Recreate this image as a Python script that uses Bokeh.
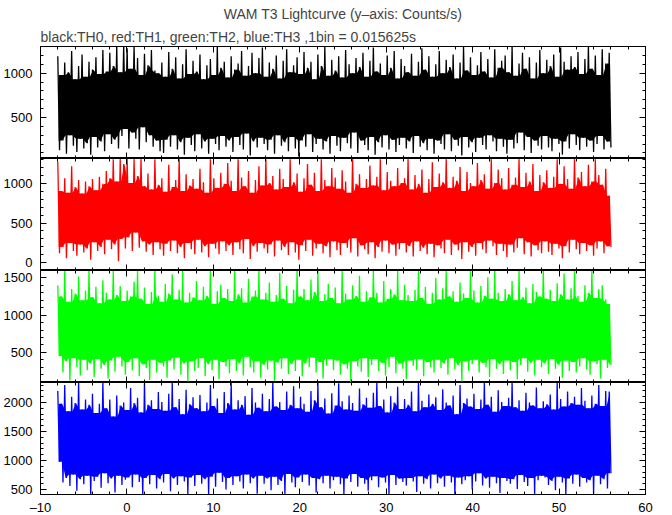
import numpy as np
from bokeh.plotting import figure
from bokeh.layouts import column
from bokeh.models import (Range1d, SingleIntervalTicker, LinearAxis, Title,
                          CustomJSTickFormatter, CustomLabelingPolicy)
from bokeh.embed import file_html
from bokeh.resources import INLINE

# ---------------- data ----------------
T_START = -8.0   # s, first bin
T_END = 56.0     # s, last bin
TITLE = "WAM T3 Lightcurve (y\u2013axis: Counts/s)"
SUBTITLE = "black:TH0, red:TH1, green:TH2, blue:TH3 ,1bin = 0.015625s"

th0_hi = [1190, 980, 1120, 1010, 1250, 930, 1080, 1210, 960, 1130,
          1040, 1180, 990, 1260, 1020, 1230, 1080, 1300, 1010, 1310,
          1280, 1050, 1300, 1170, 980, 1220, 1090, 1260, 1030, 1000,
          1120, 960, 1240, 1050, 1180, 940, 1100, 1270, 990, 1140,
          1020, 1210, 930, 1090, 1160, 980, 1300, 1060, 1130, 950,
          1190, 1040, 1110, 1250, 970, 1080, 1230, 1000, 1170, 1290,
          960, 1120, 1050, 1200, 940, 1140, 1270, 1010, 1090, 1180,
          990, 1240, 1060, 1130, 930, 1210, 1080, 1300, 970, 1150,
          1030, 1190, 950, 1260, 1100, 1000, 1170, 1070, 1230, 960,
          1140, 1290, 1020, 1110, 980, 1200, 1060, 1250, 940, 1160,
          1080, 1010, 1220, 970, 1130, 1280, 1040, 1190, 960, 1100,
          1250, 1000, 1150, 1070, 1210, 940, 1120, 1300, 1030, 1180,
          980, 1090, 1240, 1020, 1160, 950, 1270, 1060, 1140, 1200,
          1010, 1300, 970, 1110, 1230, 1050, 1180, 940, 1120, 1260,
          1000, 1150, 1080, 1210, 960, 1290, 1130, 1040, 1190, 1070,
          1240, 990, 1160, 1300, 1050, 1200, 980, 1270, 1110, 1230]
th0_lo = [130, 240, 90, 300, 180, 110, 260, 150, 210, 80,
          280, 160, 230, 120, 310, 200, 250, 150, 290, 370,
          150, 330, 260, 140, 390, 220, 300, 170, 240, 120,
          100, 250, 170, 300, 140, 220, 80, 270, 190, 120,
          310, 150, 230, 90, 260, 200, 130, 290, 170, 240,
          110, 280, 190, 140, 320, 70, 230, 160, 270, 200,
          130, 250, 90, 300, 180, 220, 120, 280, 150, 60,
          240, 170, 310, 110, 200, 260, 140, 230, 90, 290,
          180, 120, 270, 210, 150, 330, 100, 240, 190, 130,
          280, 80, 220, 160, 300, 140, 250, 110, 190, 270,
          150, 230, 100, 290, 170, 210, 130, 260, 90, 240,
          200, 140, 310, 120, 250, 180, 70, 280, 160, 220,
          110, 270, 190, 140, 300, 230, 120, 260, 170, 90,
          250, 150, 210, 330, 130, 280, 100, 240, 180, 140,
          290, 160, 120, 260, 200, 80, 230, 150, 310, 190,
          130, 270, 170, 240, 110, 200, 290, 140, 230, 160]

th1_hi = [1270, 900, 1060, 880, 1210, 950, 1040, 870, 1020, 960,
          1050, 910, 1080, 990, 1150, 1060, 1300, 1020, 1300, 1240,
          1300, 1000, 1300, 1090, 1300, 960, 1120, 920, 1300, 980,
          1060, 890, 1230, 950, 1040, 1300, 900, 1110, 970, 1050,
          930, 1180, 1010, 880, 1300, 1060, 940, 1130, 990, 1250,
          1030, 900, 1300, 1070, 960, 1150, 880, 1040, 1210, 970,
          1300, 1000, 1090, 920, 1180, 1050, 950, 1300, 1010, 1120,
          890, 1060, 1240, 980, 1130, 900, 1300, 1040, 960, 1190,
          1070, 930, 1160, 1020, 880, 1300, 990, 1110, 940, 1050,
          1220, 970, 1080, 1300, 910, 1140, 1030, 960, 1190, 1000,
          1060, 1300, 920, 1100, 990, 1170, 880, 1050, 1260, 950,
          1120, 1010, 1300, 940, 1080, 1030, 1200, 900, 1140, 1000,
          960, 1250, 1040, 1110, 930, 1300, 1000, 1170, 1060, 920,
          1190, 980, 1070, 1300, 950, 1130, 1020, 1240, 900, 1100,
          1010, 1160, 940, 1080, 1300, 990, 1210, 1050, 930, 1300,
          1070, 1140, 960, 1230, 1020, 1300, 1100, 980, 1180, 840]
th1_lo = [120, 200, 60, 250, 150, 90, 230, 130, 180, 40,
          260, 150, 200, 110, 290, 170, 230, 20, 300, 180,
          320, 150, 380, 190, 270, 140, 230, 100, 260, 170,
          90, 240, 150, 280, 120, 200, 60, 250, 170, 110,
          290, 130, 210, 70, 240, 180, 110, 270, 150, 220,
          100, 260, 170, 120, 300, 50, 210, 140, 250, 180,
          120, 230, 80, 280, 160, 200, 100, 260, 130, 40,
          220, 150, 290, 90, 180, 240, 120, 210, 70, 270,
          160, 100, 250, 190, 130, 310, 80, 220, 170, 110,
          260, 60, 200, 140, 280, 120, 230, 90, 170, 250,
          130, 210, 80, 270, 150, 190, 110, 240, 70, 220,
          180, 120, 290, 100, 230, 160, 50, 260, 140, 200,
          90, 250, 170, 120, 280, 210, 100, 240, 150, 70,
          230, 130, 190, 310, 110, 260, 80, 220, 160, 120,
          270, 140, 100, 240, 180, 60, 210, 130, 290, 170,
          110, 250, 150, 220, 90, 180, 270, 120, 210, 200]

th2_hi = [1400, 1250, 1600, 1180, 1350, 1290, 1520, 1200, 1330, 1600,
          1240, 1380, 1160, 1470, 1300, 1210, 1600, 1270, 1390, 1190,
          1330, 1250, 1450, 1600, 1220, 1370, 1150, 1310, 1600, 1260,
          1180, 1420, 1290, 1550, 1210, 1340, 1600, 1170, 1300, 1240,
          1460, 1200, 1380, 1260, 1600, 1150, 1320, 1410, 1230, 1350,
          1190, 1600, 1280, 1360, 1170, 1490, 1250, 1330, 1600, 1210,
          1300, 1440, 1180, 1270, 1570, 1220, 1390, 1160, 1340, 1600,
          1250, 1350, 1200, 1480, 1310, 1600, 1190, 1280, 1420, 1230,
          1370, 1160, 1600, 1290, 1210, 1400, 1260, 1530, 1180, 1320,
          1240, 1600, 1300, 1170, 1460, 1220, 1350, 1280, 1600, 1200,
          1410, 1270, 1190, 1340, 1600, 1230, 1380, 1150, 1300, 1500,
          1210, 1360, 1600, 1250, 1320, 1180, 1440, 1290, 1230, 1600,
          1330, 1170, 1390, 1260, 1510, 1220, 1600, 1300, 1190, 1350,
          1280, 1460, 1200, 1600, 1240, 1370, 1160, 1420, 1310, 1250,
          1600, 1220, 1340, 1190, 1430, 1280, 1560, 1210, 1360, 1600,
          1260, 1180, 1400, 1300, 1600, 1230, 1350, 1400, 1210, 1150]
th2_lo = [450, 230, 380, 120, 420, 300, 190, 400, 260, 350,
          170, 410, 280, 330, 150, 390, 240, 440, 310, 200,
          370, 260, 420, 180, 340, 290, 130, 400, 230, 360,
          310, 160, 390, 270, 430, 200, 350, 110, 380, 250,
          290, 420, 180, 340, 260, 400, 140, 370, 310, 220,
          410, 250, 350, 190, 440, 300, 230, 380, 160, 330,
          270, 390, 120, 360, 280, 420, 210, 340, 250, 400,
          180, 350, 300, 430, 230, 370, 150, 320, 410, 260,
          390, 200, 340, 280, 100, 380, 310, 240, 420, 170,
          330, 410, 250, 360, 190, 300, 440, 220, 350, 280,
          140, 390, 320, 260, 410, 180, 370, 300, 230, 400,
          290, 350, 200, 420, 270, 330, 110, 380, 250, 340,
          400, 230, 360, 300, 170, 410, 280, 340, 210, 390,
          260, 370, 140, 330, 420, 240, 360, 190, 400, 300,
          350, 210, 410, 280, 330, 160, 390, 250, 370, 230,
          310, 420, 270, 200, 380, 340, 150, 400, 290, 330]

th3_hi = [2200, 1980, 2300, 1850, 2100, 1990, 2350, 1880, 2050, 1960,
          2150, 1820, 1980, 2350, 1900, 2050, 1760, 2120, 1950, 2000,
          1870, 2250, 1990, 2080, 1830, 2350, 1960, 2040, 1890, 2180,
          2010, 1860, 2150, 2350, 1920, 2060, 1800, 2220, 1970, 2090,
          1900, 2130, 1850, 2000, 2300, 1940, 2070, 1820, 2180, 1990,
          2350, 1880, 2040, 1960, 2110, 1790, 2250, 2000, 1910, 2150,
          1850, 2060, 2350, 1930, 2010, 1870, 2190, 1960, 2280, 1900,
          2100, 1980, 1840, 2200, 2040, 2350, 1920, 2070, 1810, 2160,
          1950, 2330, 2020, 1880, 2120, 1990, 1860, 2240, 1970, 2080,
          1910, 2170, 2350, 1940, 2050, 1830, 2110, 2000, 2270, 1890,
          2060, 1960, 2190, 1850, 2350, 2030, 1920, 2140, 1980, 2090,
          1870, 2230, 2000, 1950, 2120, 1800, 2300, 1990, 2070, 1930,
          2150, 1890, 2050, 2350, 1960, 2100, 1840, 2210, 2010, 1940,
          2080, 2350, 1920, 2040, 1860, 2170, 2000, 1950, 2260, 1900,
          2020, 1970, 2140, 1880, 2350, 2060, 1930, 2190, 1990, 2100,
          1960, 2250, 2030, 1900, 2120, 1980, 2300, 1940, 2200, 2190]
th3_lo = [980, 620, 700, 560, 760, 480, 680, 590, 740, 400,
          650, 720, 530, 780, 610, 690, 450, 740, 580, 670,
          710, 540, 760, 630, 400, 700, 590, 750, 520, 680,
          620, 770, 470, 690, 580, 730, 640, 420, 710, 560,
          750, 600, 680, 400, 720, 550, 790, 630, 500, 700,
          580, 730, 640, 520, 760, 610, 690, 430, 740, 600,
          690, 490, 720, 580, 650, 400, 770, 620, 540, 710,
          630, 760, 570, 700, 450, 680, 610, 740, 520, 660,
          720, 590, 410, 690, 630, 770, 550, 700, 600, 480,
          660, 730, 540, 710, 620, 400, 750, 580, 690, 630,
          570, 700, 640, 460, 730, 600, 680, 520, 760, 610,
          690, 550, 740, 620, 400, 710, 590, 660, 730, 500,
          640, 780, 570, 690, 530, 720, 610, 440, 700, 650,
          600, 680, 510, 750, 630, 560, 700, 420, 660, 740,
          710, 580, 650, 490, 720, 620, 400, 690, 600, 760,
          550, 700, 620, 660, 430, 740, 590, 680, 520, 780]

# panel y ranges (as shown by the axes)
Y_RANGES = [(37, 1301), (-95, 1308), (95, 1600), (415, 2345)]
COLORS = ["#000000", "#ff0000", "#00ff00", "#0000ff"]

FONT = "Liberation Sans"


def style_axis(ax, labels, standoff=8):
    ax.axis_line_color = "black"
    ax.major_tick_line_color = "black"
    ax.minor_tick_line_color = "black"
    ax.major_tick_in = 6
    ax.major_tick_out = 0
    ax.minor_tick_in = 3
    ax.minor_tick_out = 0
    ax.major_label_text_font = FONT
    ax.major_label_text_color = "black"
    if labels:
        ax.major_label_text_font_size = "13px"
        ax.major_label_standoff = standoff
    else:
        # tick marks only: no labels drawn, no space taken
        ax.major_label_text_font_size = "0px"
        ax.major_label_standoff = 0
        ax.major_label_policy = CustomLabelingPolicy(code="return new Set();")


def neighbours(a):
    a = np.asarray(a, dtype=float)
    prev = np.concatenate([a[:1], a[:-1]])
    nxt = np.concatenate([a[1:], a[-1:]])
    return prev, a, nxt


def make_panel(idx, hi, lo):
    last = idx == 3
    y0, y1 = Y_RANGES[idx]
    p = figure(frame_width=605, frame_height=112,
               x_range=Range1d(-10, 60), y_range=Range1d(y0, y1),
               output_backend="svg", toolbar_location=None,
               x_axis_location=None, y_axis_location=None,
               min_border_left=37, min_border_right=14,
               min_border_top=(41 if idx == 0 else 0), min_border_bottom=0,
               background_fill_color="white", border_fill_color="white")
    p.outline_line_color = "black"
    p.outline_line_width = 1
    p.grid.visible = False

    for loc in ("left", "right"):
        ax = LinearAxis(ticker=SingleIntervalTicker(interval=500, num_minor_ticks=5))
        style_axis(ax, loc == "left")
        p.add_layout(ax, loc)
    for loc in ("below", "above"):
        ax = LinearAxis(ticker=SingleIntervalTicker(interval=10, num_minor_ticks=5))
        has_labels = last and loc == "below"
        style_axis(ax, has_labels, standoff=5)
        if has_labels:
            ax.formatter = CustomJSTickFormatter(
                code="return tick < 0 ? '\\u2013' + Math.abs(tick) : String(tick);")
        p.add_layout(ax, loc)

    n = len(hi)
    t = np.linspace(T_START, T_END, 2 * n)
    y = np.empty(2 * n)
    y[0::2] = hi
    y[1::2] = lo

    # dense core of the light curve: between the neighbouring lows and highs
    hp, hc, hn = neighbours(hi)
    lp, lc, ln = neighbours(lo)
    core_top = np.minimum(np.minimum(hp, hc), hn)
    core_bot = np.maximum(np.maximum(lp, lc), ln)
    tc = 0.5 * (t[0::2] + t[1::2])
    p.varea(x=tc, y1=core_bot, y2=core_top, fill_color=COLORS[idx], fill_alpha=1.0)

    p.line(t, y, line_color=COLORS[idx], line_width=1.3)

    if idx == 0:
        p.add_layout(Title(text=SUBTITLE, align="left", text_font=FONT,
                           text_font_size="14px", text_font_style="normal",
                           standoff=3), "above")
        p.add_layout(Title(text=TITLE, align="center", text_font=FONT,
                           text_font_size="14px", text_font_style="normal",
                           standoff=7), "above")
    return p


panels = [make_panel(0, th0_hi, th0_lo), make_panel(1, th1_hi, th1_lo),
          make_panel(2, th2_hi, th2_lo), make_panel(3, th3_hi, th3_lo)]

layout = column(*panels, spacing=0)
open("out.html", "w").write(file_html(layout, INLINE))
